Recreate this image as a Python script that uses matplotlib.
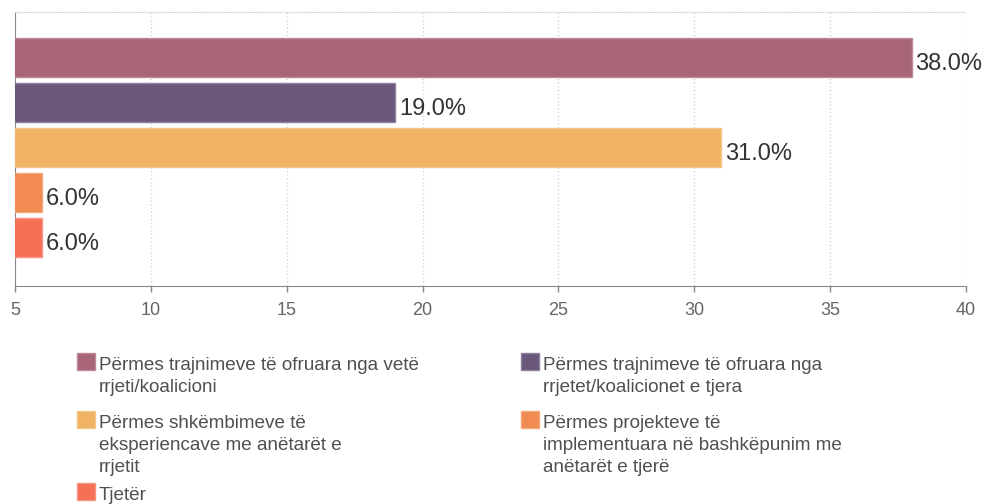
import matplotlib
matplotlib.use('Agg')
import matplotlib.pyplot as plt
import matplotlib.colors as mcolors
from matplotlib.patches import Rectangle

categories = [
    'Përmes trajnimeve të ofruara nga vetë\nrrjeti/koalicioni',
    'Përmes trajnimeve të ofruara nga\nrrjetet/koalicionet e tjera',
    'Përmes shkëmbimeve të\neksperiencave me anëtarët e\nrrjetit',
    'Përmes projekteve të\nimplementuara në bashkëpunim me\nanëtarët e tjerë',
    'Tjetër',
]
values = [38.0, 19.0, 31.0, 6.0, 6.0]
colors = ['#a86576', '#6a577b', '#f0b363', '#f28b51', '#f47158']
x_ticks = [5, 10, 15, 20, 25, 30, 35, 40]

plt.rcParams['font.family'] = ['Liberation Sans', 'DejaVu Sans']

W, H = 984, 504


def lighter(c, amount=0.25):
    r, g, b = mcolors.to_rgb(c)
    return (r + (1 - r) * amount, g + (1 - g) * amount, b + (1 - b) * amount)


fig = plt.figure(figsize=(W / 100, H / 100), dpi=100)
ax = fig.add_axes([15 / W, 1 - 286 / H, (966 - 15) / W, (286 - 12) / H])

pos = list(range(len(values)))
ax.barh(pos, values, height=0.86, color=colors,
        edgecolor=[lighter(c) for c in colors], linewidth=1, zorder=3)

for i, v in enumerate(values):
    ax.annotate(f'{v:.1f}%', xy=(v, i), xytext=(2.5, -8.8), textcoords='offset points',
                ha='left', va='baseline', fontsize=17, color='#333333', zorder=4)

ax.set_xlim(5, 40)
ax.set_ylim(5.07, -1.01)
ax.set_xticks(x_ticks)
ax.set_yticks([])
ax.tick_params(axis='x', length=4.3, width=1, color='#888888', pad=7,
               labelsize=13, labelcolor='#666666')

ax.grid(axis='x', linestyle=':', color='#d5d5d5', linewidth=1, zorder=0)
ax.spines['right'].set_visible(False)
ax.spines['top'].set_linestyle(':')
ax.spines['top'].set_color('#d5d5d5')
ax.spines['left'].set_color('#888888')
ax.spines['bottom'].set_color('#888888')

# legend drawn by hand, two columns
rows_y = [363, 421, 493]
cols_x = [77, 521]
for i, (label, color) in enumerate(zip(categories, colors)):
    row, col = divmod(i, 2)
    cy = rows_y[row]
    x0 = cols_x[col]
    fig.add_artist(Rectangle((x0 / W, 1 - (cy + 7) / H), 18 / W, 17 / H,
                             transform=fig.transFigure, facecolor=color,
                             edgecolor=lighter(color), linewidth=1))
    for k, line in enumerate(label.split('\n')):
        fig.text((x0 + 22) / W, 1 - (cy + 6.8 + 22 * k) / H, line,
                 fontsize=13.6, color='#505050', va='baseline', ha='left')

fig.savefig('out.png', dpi=100)
